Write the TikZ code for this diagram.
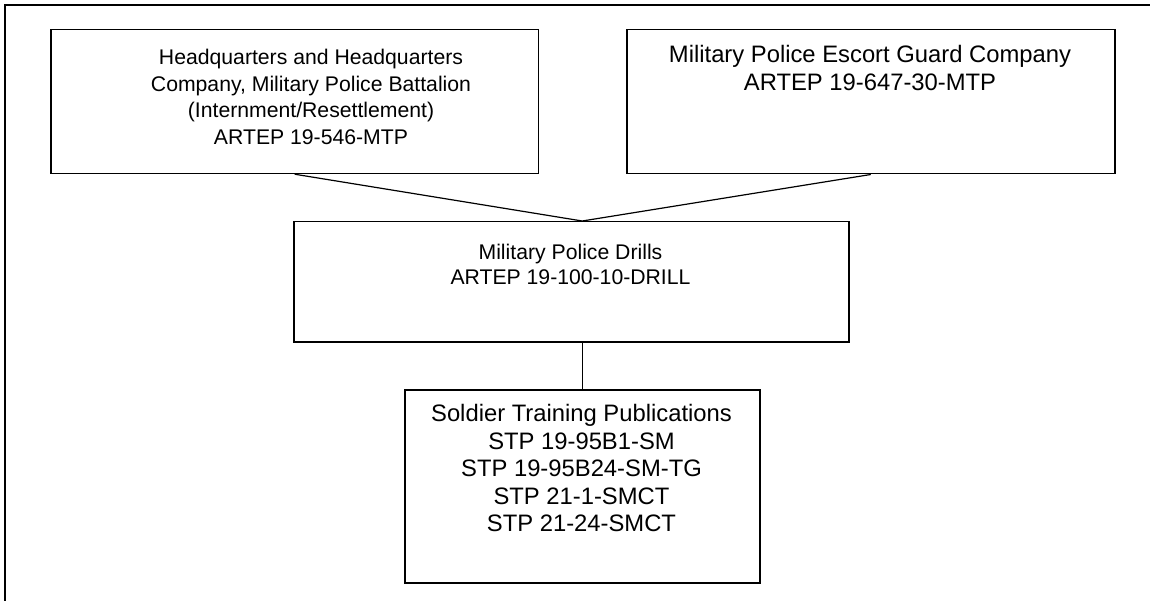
\documentclass[tikz,border=0pt]{standalone}
\usepackage{fontspec}
\setmainfont{Liberation Sans}
\begin{document}
\begin{tikzpicture}[x=1pt,y=-1pt,
  box/.style={draw, line width=1.5pt, rectangle, inner sep=0pt, anchor=north west},
  link/.style={line width=1.2pt},
  frameline/.style={line width=1.5pt},
  smalltxt/.style={anchor=base, inner sep=0pt, font=\fontsize{21.2}{24.4}\selectfont},
  bigtxt/.style={anchor=base, inner sep=0pt, font=\fontsize{23.8}{27.4}\selectfont}]
\useasboundingbox (0,0) rectangle (1150,601);
\draw[frameline] (5,601) -- (5,5) -- (1150,5);

% boxes
\node[box, minimum width=487.7pt, minimum height=143.7pt] (hq) at (50,29) {};
\node[box, minimum width=488pt, minimum height=144pt] (esc) at (626,29) {};
\node[box, minimum width=555pt, minimum height=120pt] (drl) at (293,221) {};
\node[box, minimum width=355pt, minimum height=193pt] (stp) at (404,389) {};

% texts
\node[smalltxt] (hqa) at (311,65) {Headquarters and Headquarters};
\node[smalltxt] (hqb) at (311,91.5) {Company, Military Police Battalion};
\node[smalltxt] (hqc) at (311,118) {(Internment/Resettlement)};
\node[smalltxt] (hqd) at (311,144.5) {ARTEP 19-546-MTP};

\node[bigtxt] (esca) at (870,63) {Military Police Escort Guard Company};
\node[bigtxt] (escb) at (870,90.4) {ARTEP 19-647-30-MTP};

\node[smalltxt] (drla) at (570.5,260) {Military Police Drills};
\node[smalltxt] (drlb) at (570.5,284.4) {ARTEP 19-100-10-DRILL};

\node[bigtxt] (stpa) at (581.5,421.7) {Soldier Training Publications};
\node[bigtxt] (stpb) at (581.5,449.2) {STP 19-95B1-SM};
\node[bigtxt] (stpc) at (581.5,476.7) {STP 19-95B24-SM-TG};
\node[bigtxt] (stpd) at (581.5,504.2) {STP 21-1-SMCT};
\node[bigtxt] (stpe) at (581.5,531.7) {STP 21-24-SMCT};

% connectors
\coordinate (join) at (drl.north -| stp.north);
\coordinate (drop) at (drl.south -| stp.north);
\draw[link] (hq.south) -- (join) -- (esc.south);
\draw[link] (drop) -- (stp.north);
\end{tikzpicture}
\end{document}
